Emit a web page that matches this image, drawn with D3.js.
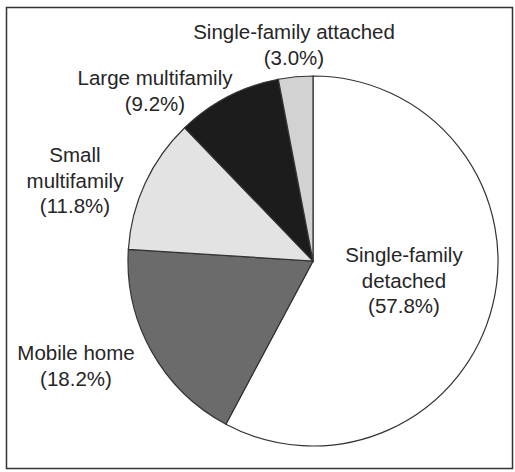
<!DOCTYPE html>
<html lang="en">
<head>
<meta charset="UTF-8">
<title>Housing type shares</title>
<script src="https://d3js.org/d3.v7.min.js"></script>
<style>
    body { margin: 0; background: #fff; }
    svg { display: block; }
    .label { font-family: "Liberation Sans", Arial, sans-serif; font-size: 20.5px; fill: #262626; text-anchor: middle; }
</style>
</head>
<body>
<div id="chart"></div>
<script>
    // data, clockwise from 12 o'clock
    const categories = ["Single-family detached", "Mobile home", "Small multifamily", "Large multifamily", "Single-family attached"];
    const shares = [57.8, 18.2, 11.8, 9.2, 3.0];
    const labelLines = [
        ["Single-family", "detached"],
        ["Mobile home"],
        ["Small", "multifamily"],
        ["Large multifamily"],
        ["Single-family attached"]
    ];
    const fills = ["#ffffff", "#6b6b6b", "#e3e3e3", "#1c1c1c", "#d2d2d2"];

    // where each label block sits (first baseline), page coords
    const labelAt = [[404, 262], [76, 360], [75, 162], [155, 85], [294, 39]];

    const width = 515, height = 472;
    const cx = 313, cy = 261, r = 185;

    const svg = d3.select("#chart").append("svg")
        .attr("width", width)
        .attr("height", height);

    svg.append("rect")
        .attr("x", 6.5).attr("y", 7.5)
        .attr("width", 506).attr("height", 461)
        .attr("fill", "none")
        .attr("stroke", "#333")
        .attr("stroke-width", 1.5);

    const pie = d3.pie().sort(null).value(d => d)(shares);
    const arc = d3.arc().innerRadius(0).outerRadius(r);

    svg.append("g")
        .attr("transform", `translate(${cx},${cy})`)
        .selectAll("path")
        .data(pie)
        .join("path")
        .attr("d", arc)
        .attr("fill", (d, i) => fills[i])
        .attr("stroke", "#333")
        .attr("stroke-width", 1.2);

    const lineH = 25.5;
    categories.forEach((c, i) => {
        const t = svg.append("text")
            .attr("class", "label")
            .attr("x", labelAt[i][0])
            .attr("y", labelAt[i][1]);
        const lines = labelLines[i].concat([`(${shares[i].toFixed(1)}%)`]);
        lines.forEach((l, j) => {
            t.append("tspan")
                .attr("x", labelAt[i][0])
                .attr("dy", j === 0 ? 0 : lineH)
                .text(l);
        });
    });
</script>
</body>
</html>
